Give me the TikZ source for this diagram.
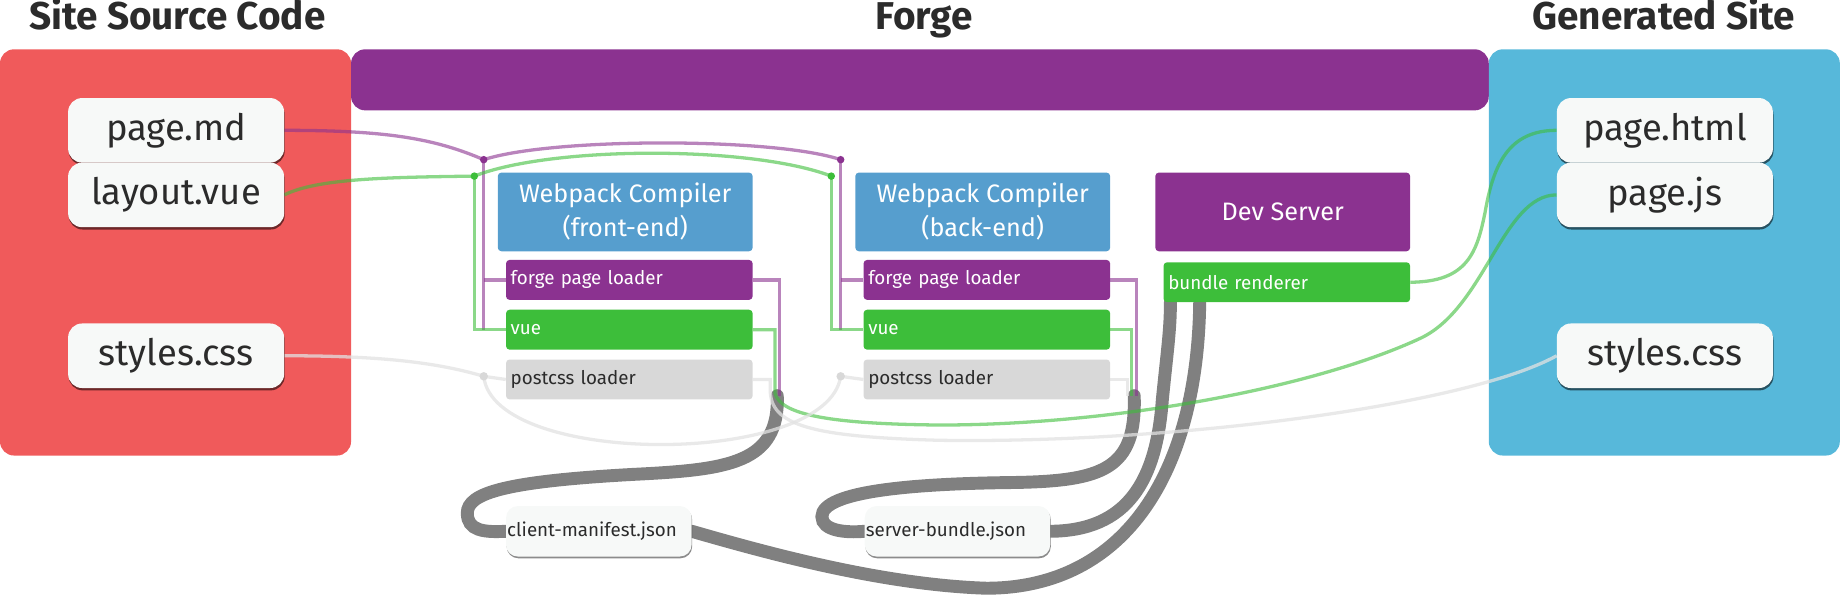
\documentclass[tikz,border=0pt]{standalone}
\usepackage{fontspec}
\setmainfont{Fira Sans}
\usepackage{tikz}
\usetikzlibrary{positioning,calc,shadows}

\definecolor{srcred}{RGB}{240,90,91}
\definecolor{forgepurple}{RGB}{139,50,144}
\definecolor{outblue}{RGB}{87,184,218}
\definecolor{wpblue}{RGB}{86,158,206}
\definecolor{loadgreen}{RGB}{61,190,58}
\definecolor{loadgrey}{RGB}{216,216,216}
\definecolor{cssgrey}{RGB}{226,226,226}
\definecolor{filewhite}{RGB}{247,249,248}
\definecolor{inkdark}{RGB}{43,43,43}
\definecolor{pipegrey}{RGB}{128,128,128}

\pgfdeclarelayer{panel}
\pgfdeclarelayer{wires}
\pgfsetlayers{panel,wires,main}

\tikzset{
  heading/.style={text=inkdark,inner sep=0pt,anchor=base,font=\fontsize{33}{33}\selectfont\bfseries},
  srcfile/.style={fill=filewhite,rounded corners=12pt,minimum width=184pt,minimum height=55pt,
    inner sep=0pt,text=inkdark,font=\fontsize{31}{31}\selectfont,
    drop shadow={shadow xshift=0.5pt,shadow yshift=-2pt,opacity=0.55,fill=black}},
  compiler/.style={fill=wpblue,rounded corners=3pt,minimum width=217pt,minimum height=67pt,
    inner sep=0pt,text=white,align=center,font=\fontsize{21.5}{29}\selectfont},
  loader/.style={fill=#1,rounded corners=3pt,minimum width=210pt,minimum height=34pt,
    text width=202pt,inner xsep=4pt,inner ysep=0pt,align=left,text=white,
    font=\fontsize{16}{16}\selectfont},
  jsonfile/.style={fill=filewhite,rounded corners=10pt,minimum width=158pt,minimum height=43pt,
    text width=156pt,inner xsep=1pt,inner ysep=0pt,align=left,text=inkdark,
    font=\fontsize{16}{16}\selectfont,
    drop shadow={shadow xshift=0.5pt,shadow yshift=-1.5pt,opacity=0.45,fill=black}},
  mdwire/.style={draw=forgepurple,draw opacity=0.6,line width=2.8pt},
  vuewire/.style={draw=loadgreen,draw opacity=0.6,line width=2.8pt},
  csswire/.style={draw=cssgrey,draw opacity=0.75,line width=2.8pt},
  pipe/.style={draw=pipegrey,line width=11pt,line cap=round}
}

\begin{document}
\begin{tikzpicture}[x=1pt,y=-1pt]
\useasboundingbox (0,0) rectangle (1568,507.6);

% headings
\node[heading] (hsrc) at (151,25) {Site Source Code};
\node[heading] (hforge) at (787,25) {Forge};
\node[heading] (hgen) at (1417,25) {Generated Site};

\begin{pgfonlayer}{panel}
  \fill[srcred,rounded corners=12pt] (0,42) rectangle (299,388);%source
  \fill[forgepurple,rounded corners=12pt] (299,42) rectangle (1268,94);%forge
  \fill[outblue,rounded corners=12pt] (1268,42) rectangle (1567,388);%output
\end{pgfonlayer}

% files
\node[srcfile] (srcmd) at (150,111) {page.md};
\node[srcfile] (srcvue) at (150,166) {layout.vue};
\node[srcfile] (srccss) at (150,303) {styles.css};
\node[srcfile] (outhtml) at (1418,111) {page.html};
\node[srcfile] (outjs) at (1418,166) {page.js};
\node[srcfile] (outcss) at (1418,303) {styles.css};

% compilers
\node[compiler] (fwc) at (532.5,180.5) {Webpack Compiler\\(front-end)};
\node[loader=forgepurple,below=7pt of fwc.south east,anchor=north east] (ffpl) {forge page loader};
\node[loader=loadgreen,below=8pt of ffpl] (fvue) {vue};
\node[loader=loadgrey,text=inkdark,below=8pt of fvue] (fcss) {postcss loader};

\node[compiler] (bwc) at (837,180.5) {Webpack Compiler\\(back-end)};
\node[loader=forgepurple,below=7pt of bwc.south east,anchor=north east] (bfpl) {forge page loader};
\node[loader=loadgreen,below=8pt of bfpl] (bvue) {vue};
\node[loader=loadgrey,text=inkdark,below=8pt of bvue] (bcss) {postcss loader};

\node[compiler,fill=forgepurple] (dev) at (1092.5,180.5) {Dev Server};
\node[loader=loadgreen,below=9pt of dev.south east,anchor=north east] (bren) {bundle renderer};

\node[jsonfile] (cman) at (510,452.5) {client-manifest.json};
\node[jsonfile] (sbun) at (815.5,452.5) {server-bundle.json};

\coordinate (fpj) at (412,136);
\coordinate (fgj) at (404,150);
\coordinate (fcj) at (412,320.5);
\coordinate (bpj) at (716,136);
\coordinate (bgj) at (708,150);
\coordinate (bcj) at (716,320.5);
\coordinate (fout) at (662,337);
\coordinate (bout) at (966,337);

\begin{pgfonlayer}{wires}
  % bundles
  \draw[pipe] (fout) .. controls (664,395) and (620,400) .. (540,404)
    .. controls (430,410) and (398,420) .. (398,437)
    .. controls (398,452) and (412,453.5) .. (cman.west);
  \draw[pipe] (cman.east) .. controls (650,470) and (750,498) .. (840,501)
    .. controls (960,501) and (1020,400) .. ($(bren.south west)+(31,0)$);
  \draw[pipe] (bout) .. controls (968,400) and (940,410) .. (860,411)
    .. controls (780,412) and (700,418) .. (700,440)
    .. controls (700,452) and (720,454) .. (sbun.west);
  \draw[pipe] (sbun.east) .. controls (960,452) and (985,410) .. (990,340)
    .. controls (994,300) and (997,280) .. ($(bren.south west)+(6,0)$);

  % page.md
  \draw[mdwire] (srcmd.east) .. controls (330,111) and (370,118) .. (fpj);
  \draw[mdwire] (fpj) .. controls (470,117) and (660,117) .. (bpj);
  \draw[mdwire] (fpj) -- (fpj |- fvue.west);
  \draw[mdwire] (fpj |- ffpl.west) -- (ffpl.west);
  \draw[mdwire] (bpj) -- (bpj |- bvue.west);
  \draw[mdwire] (bpj |- bfpl.west) -- (bfpl.west);
  \draw[mdwire] (ffpl.east) -| (664,337);
  \draw[mdwire] (bfpl.east) -| (968,337);

  % layout.vue
  \draw[vuewire] (srcvue.east) .. controls (270,152) and (330,151) .. (fgj);
  \draw[vuewire] (fgj) .. controls (470,124) and (640,124) .. (bgj);
  \draw[vuewire] (fgj) |- (fvue.west);
  \draw[vuewire] (bgj) |- (bvue.west);
  \draw[vuewire] (bvue.east) -| (964,337);
  \draw[vuewire] (fvue.east) -| (660,335) .. controls (665,352) and (700,361) .. (800,362)
    .. controls (950,362) and (1120,330) .. (1210,288)
    .. controls (1265,262) and (1280,166) .. (outjs.west);
  \draw[vuewire] (bren.east) .. controls (1250,240) and (1258,215) .. (1265,180)
    .. controls (1272,140) and (1285,111) .. (outhtml.west);

  % styles.css
  \draw[csswire] (srccss.east) .. controls (320,303) and (370,308) .. (fcj);
  \draw[csswire] (fcj) -- (fcss.west);
  \draw[csswire] (fcj) .. controls (420,398) and (705,398) .. (bcj);
  \draw[csswire] (bcj) -- (bcss.west);
  \draw[csswire] (bcss.east) -| (960,337);
  \draw[csswire] (fcss.east) -| (656,332) .. controls (656,362) and (690,372) .. (800,375)
    .. controls (1000,378) and (1250,345) .. (outcss.west);

  % joints
  \fill[forgepurple] (fpj) circle (3.2pt) (bpj) circle (3.2pt);
  \fill[loadgreen] (fgj) circle (3.2pt) (bgj) circle (3.2pt);
  \fill[loadgrey] (fcj) circle (3.6pt) (bcj) circle (3.6pt);
\end{pgfonlayer}
\end{tikzpicture}
\end{document}
